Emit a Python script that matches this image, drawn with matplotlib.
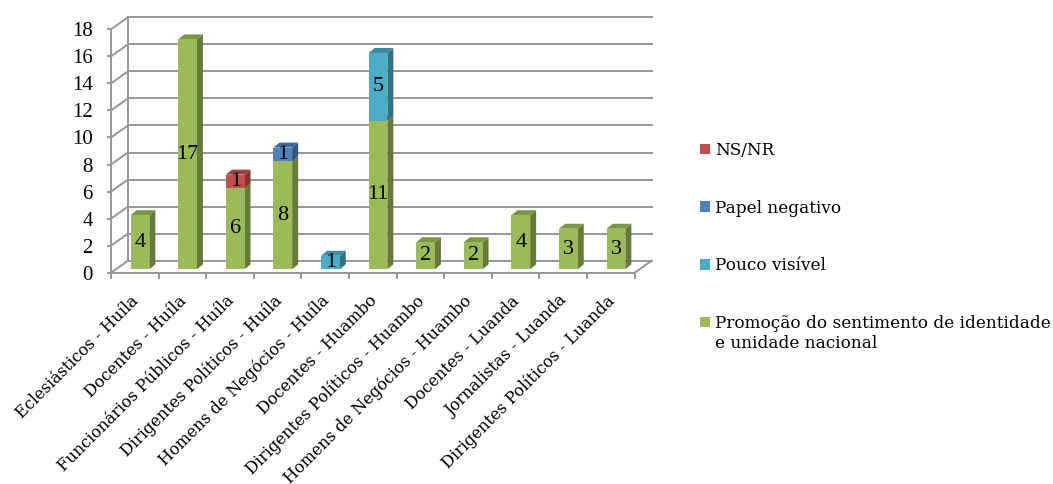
import matplotlib
matplotlib.use("Agg")
import matplotlib.pyplot as plt
from matplotlib.colors import to_rgb
from matplotlib.patches import Polygon

categories = ["Eclesiásticos - Huíla", "Docentes - Huíla", "Funcionários Públicos - Huíla",
              "Dirigentes Políticos - Huíla", "Homens de Negócios - Huíla", "Docentes - Huambo",
              "Dirigentes Políticos - Huambo", "Homens de Negócios - Huambo", "Docentes - Luanda",
              "Jornalistas - Luanda", "Dirigentes Políticos - Luanda"]
promocao = [4, 17, 6, 8, 0, 11, 2, 2, 4, 3, 3]
pouco = [0, 0, 0, 0, 1, 5, 0, 0, 0, 0, 0]
negativo = [0, 0, 0, 1, 0, 0, 0, 0, 0, 0, 0]
nsnr = [0, 0, 1, 0, 0, 0, 0, 0, 0, 0, 0]
series_names = ["Promoção do sentimento de identidade\ne unidade nacional", "Pouco visível", "Papel negativo", "NS/NR"]
series_values = [promocao, pouco, negativo, nsnr]
series_colors = ["#9BBB59", "#4BACC6", "#4F81BD", "#C0504D"]

W, H = 1053, 484
plt.rcParams["font.family"] = ["DejaVu Serif"]
fig = plt.figure(figsize=(W / 100, H / 100), dpi=100)
L, R, T, B = 111, 634.6, 29.3, 272.7
ax = fig.add_axes([L / W, 1 - B / H, (R - L) / W, (B - T) / H])
ax.set_xlim(0, 11)
ax.set_ylim(0, 18)
px = 11 / (R - L)
py = 18 / (B - T)
GRID = "#969696"
wall_dx, wall_dy = 17 * px, 12 * py
lw = 1.4

# back wall, side wall, floor
for v in range(0, 19, 2):
    ax.plot([0, wall_dx], [v, v + wall_dy], color=GRID, lw=lw, clip_on=False, zorder=1)
    ax.plot([wall_dx, 11 + wall_dx], [v + wall_dy, v + wall_dy], color=GRID, lw=lw, clip_on=False, zorder=1)
ax.plot([wall_dx, wall_dx], [wall_dy, 18 + wall_dy], color=GRID, lw=lw, clip_on=False, zorder=1)
ax.plot([11, 11 + wall_dx], [0, wall_dy], color=GRID, lw=lw, clip_on=False, zorder=1)

# bars
width = 18.7 * px
depth_x, depth_y = 6 * px, 5 * py
base = 3.4 * py
shift = 5.2 * px


def shade(color, f):
    return tuple(c * f for c in to_rgb(color))


handles = []
for i in range(len(categories)):
    bottom = base
    x0 = i + 0.5 + shift - width / 2
    x1 = x0 + width
    for vals, col in zip(series_values, series_colors):
        v = vals[i]
        if v == 0:
            continue
        top = bottom + v
        z = 3 + i * 0.01
        ax.add_patch(Polygon([(x1, bottom), (x1 + depth_x, bottom + depth_y),
                              (x1 + depth_x, top + depth_y), (x1, top)],
                             fc=shade(col, 0.66), ec="none", clip_on=False, zorder=z))
        ax.add_patch(Polygon([(x0, top), (x1, top), (x1 + depth_x, top + depth_y),
                              (x0 + depth_x, top + depth_y)],
                             fc=shade(col, 0.8), ec="none", clip_on=False, zorder=z))
        bottom = top

bottoms = [base] * len(categories)
for name, vals, col in zip(series_names, series_values, series_colors):
    xs = [i + 0.5 + shift for i in range(len(categories))]
    c = ax.bar(xs, vals, width=width, bottom=bottoms, color=col, label=name, zorder=4, clip_on=False)
    handles.append(c)
    for x, v, b in zip(xs, vals, bottoms):
        if v:
            ax.text(x, b + v / 2, str(v), ha="center", va="center", fontsize=16,
                    family="Liberation Serif", color="black", zorder=6, clip_on=False)
    bottoms = [b + v for b, v in zip(bottoms, vals)]

# axes
for s in ["top", "right"]:
    ax.spines[s].set_visible(False)
for s in ["left", "bottom"]:
    ax.spines[s].set_color(GRID)
    ax.spines[s].set_linewidth(lw)
ax.patch.set_alpha(0)
ax.set_yticks(range(0, 19, 2))
ax.set_xticks(range(12))
ax.tick_params(axis="y", length=3, width=lw, color=GRID, labelsize=15, pad=10, labelcolor="black")
for t in ax.get_yticklabels():
    t.set_family("Liberation Serif")
ax.tick_params(axis="x", length=4, width=lw, color=GRID, labelbottom=False)
for i, name in enumerate(categories):
    ax.annotate(name, xy=(i + 0.5, 0), xycoords="data", xytext=(1, -18.5), textcoords="offset points",
                rotation=45, rotation_mode="anchor", ha="right", va="center", fontsize=11.6,
                annotation_clip=False)

# legend
h = handles[::-1]
lab = series_names[::-1]
leg = fig.legend(h, lab, loc="upper left", bbox_to_anchor=(700 / W, 1 - 142 / H), bbox_transform=fig.transFigure,
                 frameon=False, fontsize=12.2, labelspacing=2.4, handlelength=0.6, handleheight=0.6,
                 handletextpad=0.3, borderpad=0, borderaxespad=0)
last = leg.legend_handles[-1]
last.set_y(last.get_y() + 8.5)

fig.savefig("out.png", dpi=100)
